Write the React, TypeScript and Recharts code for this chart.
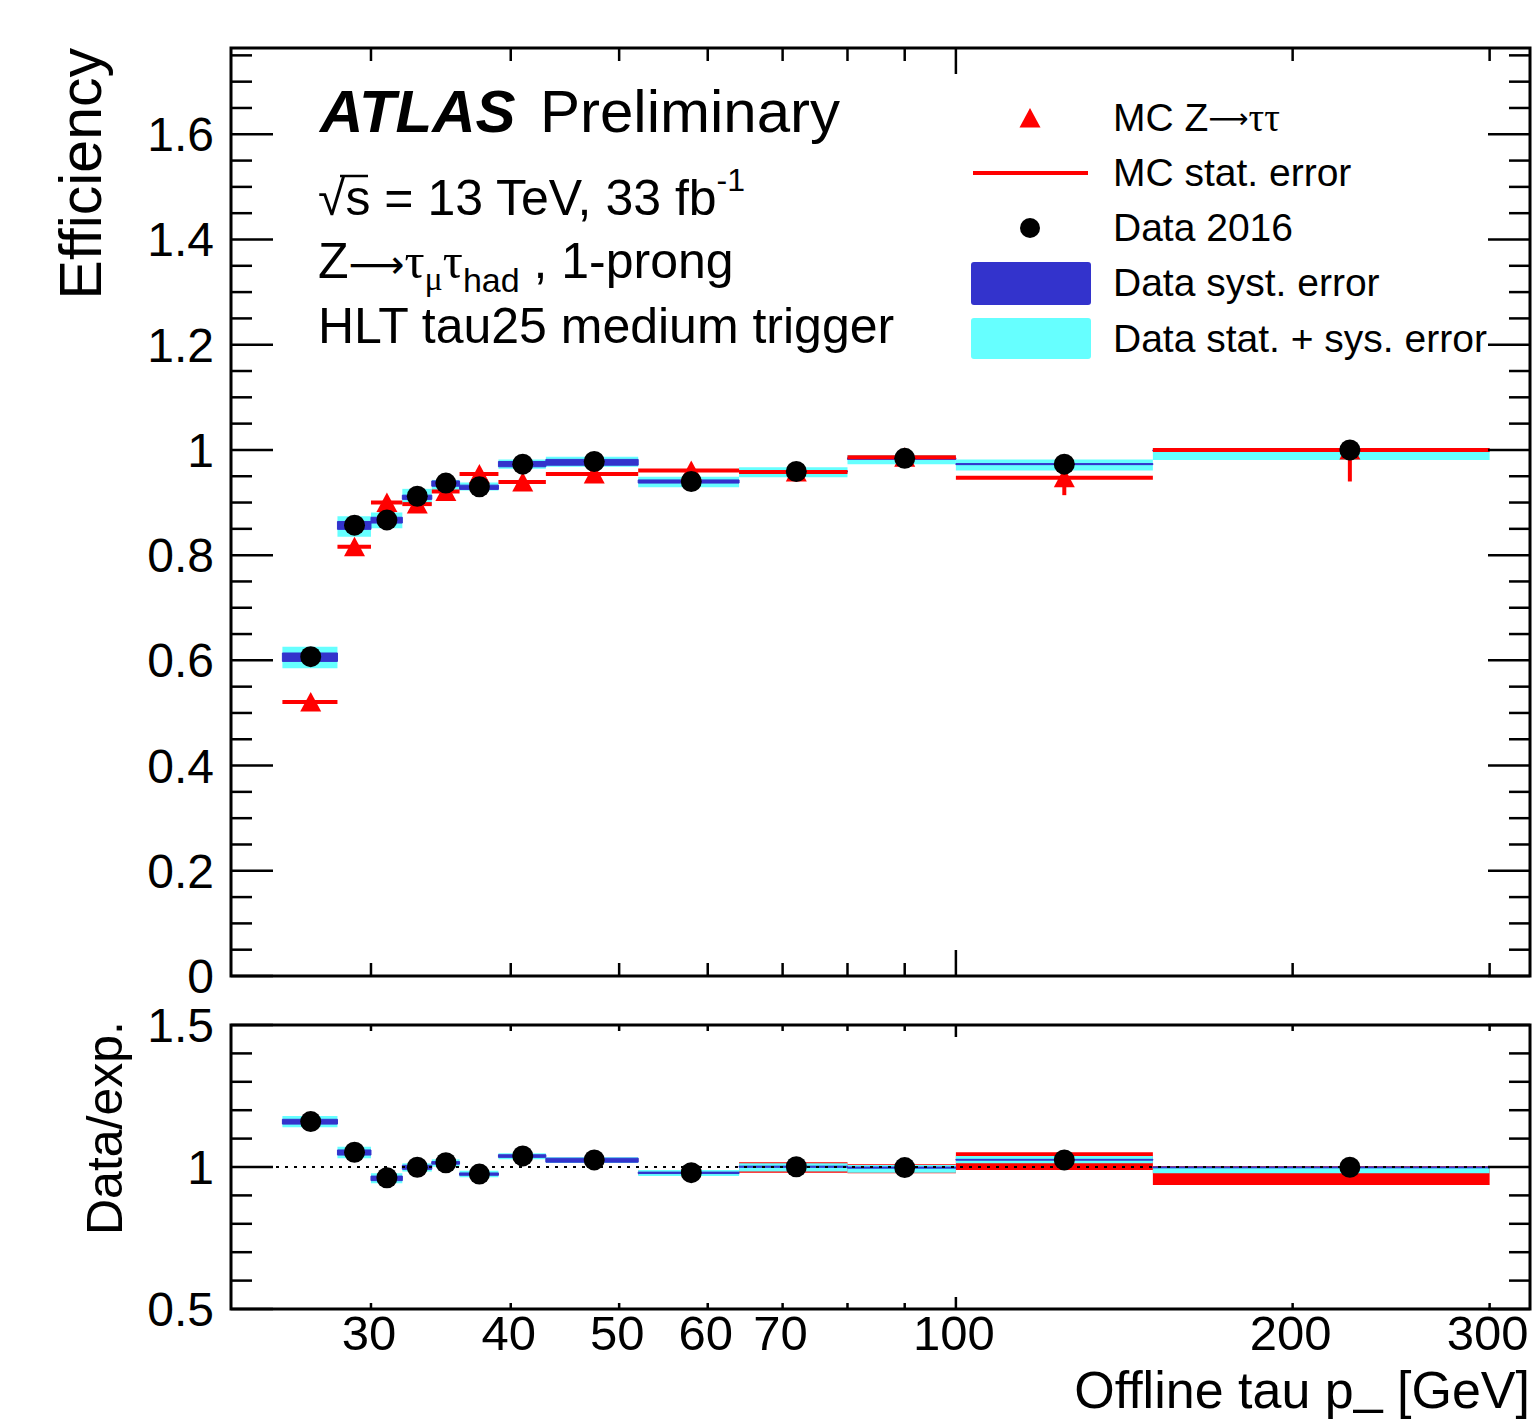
import { ComposedChart, XAxis, YAxis, Scatter, ReferenceArea, ReferenceLine } from "recharts"

// pT bins [GeV]
const binLow = [25, 28, 30, 32, 34, 36, 39, 43, 52, 64, 80, 100, 150]
const binHigh = [28, 30, 32, 34, 36, 39, 43, 52, 64, 80, 100, 150, 300]
const binCenter = [26.5, 29, 31, 33, 35, 37.5, 41, 47.5, 58, 72, 90, 125, 225]

// efficiency panel
const dataEff = [0.607, 0.857, 0.867, 0.912, 0.937, 0.93, 0.973, 0.978, 0.94, 0.959, 0.984, 0.973, 1.0]
const dataTotLow = [0.585, 0.835, 0.851, 0.895, 0.924, 0.923, 0.964, 0.968, 0.929, 0.948, 0.973, 0.961, 0.981]
const dataTotHigh = [0.626, 0.874, 0.881, 0.926, 0.943, 0.938, 0.982, 0.987, 0.949, 0.967, 0.99, 0.982, 1.003]
const dataSysLow = [0.598, 0.849, 0.861, 0.906, 0.931, 0.925, 0.968, 0.971, 0.937, 0.958, 0.982, 0.972, 0.998]
const dataSysHigh = [0.614, 0.864, 0.872, 0.914, 0.941, 0.933, 0.978, 0.982, 0.943, 0.96, 0.985, 0.974, 1.0]
const mcEff = [0.521, 0.816, 0.9, 0.897, 0.921, 0.954, 0.939, 0.954, 0.961, 0.958, 0.986, 0.947, 1.0]
const mcErrLow = [0.004, 0.005, 0.005, 0.005, 0.005, 0.006, 0.006, 0.006, 0.008, 0.016, 0.015, 0.033, 0.06]
const mcErrHigh = [0.004, 0.005, 0.005, 0.005, 0.005, 0.006, 0.006, 0.006, 0.008, 0.016, 0.012, 0.033, 0.0]

// ratio panel
const ratio = [1.16, 1.052, 0.962, 0.999, 1.015, 0.975, 1.039, 1.025, 0.98, 1.001, 0.998, 1.025, 0.999]
const ratioTotLow = [1.14, 1.031, 0.943, 0.984, 1.001, 0.964, 1.027, 1.014, 0.968, 0.984, 0.98, 1.013, 0.978]
const ratioTotHigh = [1.18, 1.071, 0.978, 1.013, 1.027, 0.987, 1.048, 1.034, 0.989, 1.013, 1.007, 1.039, 1.001]
const ratioSysLow = [1.151, 1.042, 0.952, 0.992, 1.01, 0.971, 1.034, 1.017, 0.977, 0.999, 0.996, 1.024, 0.997]
const ratioSysHigh = [1.168, 1.06, 0.968, 1.006, 1.019, 0.979, 1.043, 1.031, 0.982, 1.003, 1.0, 1.027, 1.0]
const ratioMcLow = [1.155, 1.045, 0.957, 0.994, 1.01, 0.97, 1.033, 1.019, 0.972, 0.98, 0.978, 0.989, 0.937]
const ratioMcHigh = [1.165, 1.059, 0.967, 1.004, 1.02, 0.98, 1.045, 1.031, 0.988, 1.017, 1.01, 1.052, 1.0035]

// axes
const xDomain = [22.49, 326]
const xTicks = [30, 40, 50, 60, 70, 80, 90, 100, 200, 300]
const xLabels = [30, 40, 50, 60, 70, 100, 200, 300]
const effDomain = [0, 1.764]
const effTicks = [
  0, 0.05, 0.1, 0.15, 0.2, 0.25, 0.3, 0.35, 0.4, 0.45, 0.5, 0.55, 0.6, 0.65, 0.7, 0.75, 0.8, 0.85, 0.9,
  0.95, 1, 1.05, 1.1, 1.15, 1.2, 1.25, 1.3, 1.35, 1.4, 1.45, 1.5, 1.55, 1.6, 1.65, 1.7, 1.75,
]
const effMajor = [0, 0.2, 0.4, 0.6, 0.8, 1, 1.2, 1.4, 1.6]
const ratioDomain = [0.5, 1.5]
const ratioTicks = [0.5, 0.6, 0.7, 0.8, 0.9, 1, 1.1, 1.2, 1.3, 1.4, 1.5]
const ratioMajor = [0.5, 1, 1.5]

const FONT = "'Liberation Sans', Arial, Helvetica, sans-serif"
const SERIF = "'Liberation Serif', 'DejaVu Serif', serif"
const ARROW = "'DejaVu Sans', sans-serif"
const CYAN = "#66ffff"
const BLUE = "#3333cc"
const RED = "#ff0000"
const PLOT_RIGHT = 1530

const fmt = (v: number) => String(+v.toFixed(1))
const isIn = (arr: number[], v: number) => arr.some((m) => Math.abs(m - v) < 1e-6)

function YTick(props: any) {
  const { x, y, payload, majors } = props
  const major = isIn(majors, payload.value)
  const len = major ? 42 : 21
  return (
    <g>
      <line x1={x} x2={x + len} y1={y} y2={y} stroke="#000" strokeWidth={2.5} />
      <line x1={PLOT_RIGHT - len} x2={PLOT_RIGHT} y1={y} y2={y} stroke="#000" strokeWidth={2.5} />
      {major && (
        <text x={x - 17} y={y + 17} textAnchor="end" fontSize={48} fontFamily={FONT} fill="#000">
          {fmt(payload.value)}
        </text>
      )}
    </g>
  )
}

function XTick(props: any) {
  const { x, y, payload, plotTop, small, big, labels } = props
  const len = payload.value === 100 ? big : small
  return (
    <g>
      <line x1={x} x2={x} y1={y} y2={y - len} stroke="#000" strokeWidth={2.5} />
      <line x1={x} x2={x} y1={plotTop} y2={plotTop + len} stroke="#000" strokeWidth={2.5} />
      {labels && xLabels.includes(payload.value) && (
        <text x={x - 2} y={y + 41} textAnchor="middle" fontSize={49} fontFamily={FONT} fill="#000">
          {payload.value}
        </text>
      )}
    </g>
  )
}

const Circle = (p: any) => <circle cx={p.cx} cy={p.cy} r={10.5} fill="#000" />
const Triangle = (p: any) => (
  <polygon
    points={`${p.cx},${p.cy - 10} ${p.cx - 10.5},${p.cy + 9.5} ${p.cx + 10.5},${p.cy + 9.5}`}
    fill={RED}
  />
)

const dataPts = binCenter.map((x, i) => ({ x, y: dataEff[i] }))
const mcPts = binCenter.map((x, i) => ({ x, y: mcEff[i] }))
const ratioPts = binCenter.map((x, i) => ({ x, y: ratio[i] }))

export default function App() {
  return (
    <div style={{ position: "absolute", left: 0, top: 0, width: 1536, height: 1419, background: "#fff", overflow: "hidden" }}>
      <div style={{ position: "absolute", left: 0, top: 0 }}>
        <ComposedChart width={1536} height={1012} margin={{ top: 48, right: 6, bottom: 0, left: 151 }} style={{ overflow: "visible" }}>
          <XAxis
            type="number"
            dataKey="x"
            scale="log"
            domain={xDomain}
            allowDataOverflow
            ticks={xTicks}
            interval={0}
            height={36}
            axisLine={false}
            tickLine={false}
            tickSize={0}
            tickMargin={0}
            tick={(p: any) => <XTick {...p} plotTop={48} small={13} big={26} labels={false} />}
          />
          <YAxis
            type="number"
            dataKey="y"
            domain={effDomain}
            allowDataOverflow
            ticks={effTicks}
            interval={0}
            width={80}
            axisLine={false}
            tickLine={false}
            tickSize={0}
            tickMargin={0}
            tick={(p: any) => <YTick {...p} majors={effMajor} />}
          />
          {binLow.map((lo, i) => (
            <ReferenceArea key={`c${i}`} x1={lo} x2={binHigh[i]} y1={dataTotLow[i]} y2={dataTotHigh[i]} fill={CYAN} fillOpacity={1} stroke="none" />
          ))}
          {binLow.map((lo, i) => (
            <ReferenceArea key={`b${i}`} x1={lo} x2={binHigh[i]} y1={dataSysLow[i]} y2={dataSysHigh[i]} fill={BLUE} fillOpacity={1} stroke={BLUE} strokeWidth={1} />
          ))}
          {binLow.map((lo, i) => (
            <ReferenceLine key={`m${i}`} segment={[{ x: lo, y: mcEff[i] }, { x: binHigh[i], y: mcEff[i] }]} stroke={RED} strokeWidth={4} />
          ))}
          {binCenter.map((c, i) => (
            <ReferenceLine key={`e${i}`} segment={[{ x: c, y: mcEff[i] - mcErrLow[i] }, { x: c, y: mcEff[i] + mcErrHigh[i] }]} stroke={RED} strokeWidth={4} />
          ))}
          <ReferenceArea x1={xDomain[0]} x2={xDomain[1]} y1={effDomain[0]} y2={effDomain[1]} fill="none" stroke="#000" strokeWidth={3} ifOverflow="visible" />
          <Scatter data={mcPts} dataKey="y" shape={Triangle} isAnimationActive={false} />
          <Scatter data={dataPts} dataKey="y" shape={Circle} isAnimationActive={false} />
        </ComposedChart>
      </div>

      <div style={{ position: "absolute", left: 0, top: 1000 }}>
        <ComposedChart width={1536} height={419} margin={{ top: 25, right: 6, bottom: 0, left: 151 }} style={{ overflow: "visible" }}>
          <XAxis
            type="number"
            dataKey="x"
            scale="log"
            domain={xDomain}
            allowDataOverflow
            ticks={xTicks}
            interval={0}
            height={110}
            axisLine={false}
            tickLine={false}
            tickSize={0}
            tickMargin={0}
            tick={(p: any) => <XTick {...p} plotTop={25} small={6} big={12} labels />}
          />
          <YAxis
            type="number"
            dataKey="y"
            domain={ratioDomain}
            allowDataOverflow
            ticks={ratioTicks}
            interval={0}
            width={80}
            axisLine={false}
            tickLine={false}
            tickSize={0}
            tickMargin={0}
            tick={(p: any) => <YTick {...p} majors={ratioMajor} />}
          />
          <ReferenceLine y={1} stroke="#000" strokeWidth={2} strokeDasharray="3 6" />
          {binLow.map((lo, i) => (
            <ReferenceArea key={`r${i}`} x1={lo} x2={binHigh[i]} y1={ratioMcLow[i]} y2={ratioMcHigh[i]} fill={RED} fillOpacity={1} stroke="none" />
          ))}
          {binLow.map((lo, i) => (
            <ReferenceArea key={`c${i}`} x1={lo} x2={binHigh[i]} y1={ratioTotLow[i]} y2={ratioTotHigh[i]} fill={CYAN} fillOpacity={1} stroke="none" />
          ))}
          {binLow.map((lo, i) => (
            <ReferenceArea key={`b${i}`} x1={lo} x2={binHigh[i]} y1={ratioSysLow[i]} y2={ratioSysHigh[i]} fill={BLUE} fillOpacity={1} stroke={BLUE} strokeWidth={1} />
          ))}
          <ReferenceArea x1={xDomain[0]} x2={xDomain[1]} y1={ratioDomain[0]} y2={ratioDomain[1]} fill="none" stroke="#000" strokeWidth={3} ifOverflow="visible" />
          <Scatter data={ratioPts} dataKey="y" shape={Circle} isAnimationActive={false} />
        </ComposedChart>
      </div>

      <svg width={1536} height={1419} style={{ position: "absolute", left: 0, top: 0, pointerEvents: "none" }} fontFamily={FONT}>
        {/* ATLAS label */}
        <text x={320} y={132} fontSize={60} fontWeight="bold" fontStyle="italic">ATLAS</text>
        <text x={540} y={132} fontSize={60}>Preliminary</text>
        <text x={318} y={215} fontSize={50}>
          <tspan>√</tspan>
          <tspan>s = 13 TeV, 33 fb</tspan>
          <tspan fontSize={32} dy={-24}>-1</tspan>
        </text>
        <line x1={340} x2={368} y1={176} y2={176} stroke="#000" strokeWidth={2.5} />
        <text x={318} y={278} fontSize={50}>
          <tspan>Z</tspan>
          <tspan fontFamily={ARROW} fontSize={39}>⟶</tspan>
          <tspan fontFamily={SERIF}>τ</tspan>
          <tspan fontFamily={SERIF} fontSize={34} dy={12}>μ</tspan>
          <tspan fontFamily={SERIF} dy={-12}>τ</tspan>
          <tspan fontSize={34} dy={14}>had</tspan>
          <tspan dy={-14}> , 1-prong</tspan>
        </text>
        <text x={318} y={343} fontSize={50}>HLT tau25 medium trigger</text>

        {/* legend */}
        <polygon points="1030,108 1019.5,127.5 1040.5,127.5" fill={RED} />
        <line x1={973} x2={1088} y1={173} y2={173} stroke={RED} strokeWidth={4} />
        <circle cx={1030} cy={228} r={10} fill="#000" />
        <rect x={971} y={262} width={120} height={43} rx={3} fill={BLUE} />
        <rect x={971} y={318} width={120} height={41} rx={3} fill={CYAN} />
        <g fontSize={39}>
          <text x={1113} y={131}>
            MC Z<tspan fontFamily={ARROW} fontSize={28} dy={-3}>⟶</tspan>
            <tspan fontFamily={SERIF} dy={3}>ττ</tspan>
          </text>
          <text x={1113} y={186}>MC stat. error</text>
          <text x={1113} y={241}>Data 2016</text>
          <text x={1113} y={296}>Data syst. error</text>
          <text x={1113} y={352}>Data stat. + sys. error</text>
        </g>

        {/* axis titles */}
        <text transform="translate(101,48) rotate(-90)" textAnchor="end" fontSize={59}>Efficiency</text>
        <text transform="translate(122,1021) rotate(-90)" textAnchor="end" fontSize={50}>Data/exp.</text>
        <text x={1530} y={1408} textAnchor="end" fontSize={52}>
          Offline tau p<tspan dy={-5}>_</tspan>
          <tspan dy={5}> [GeV]</tspan>
        </text>
      </svg>
    </div>
  )
}
